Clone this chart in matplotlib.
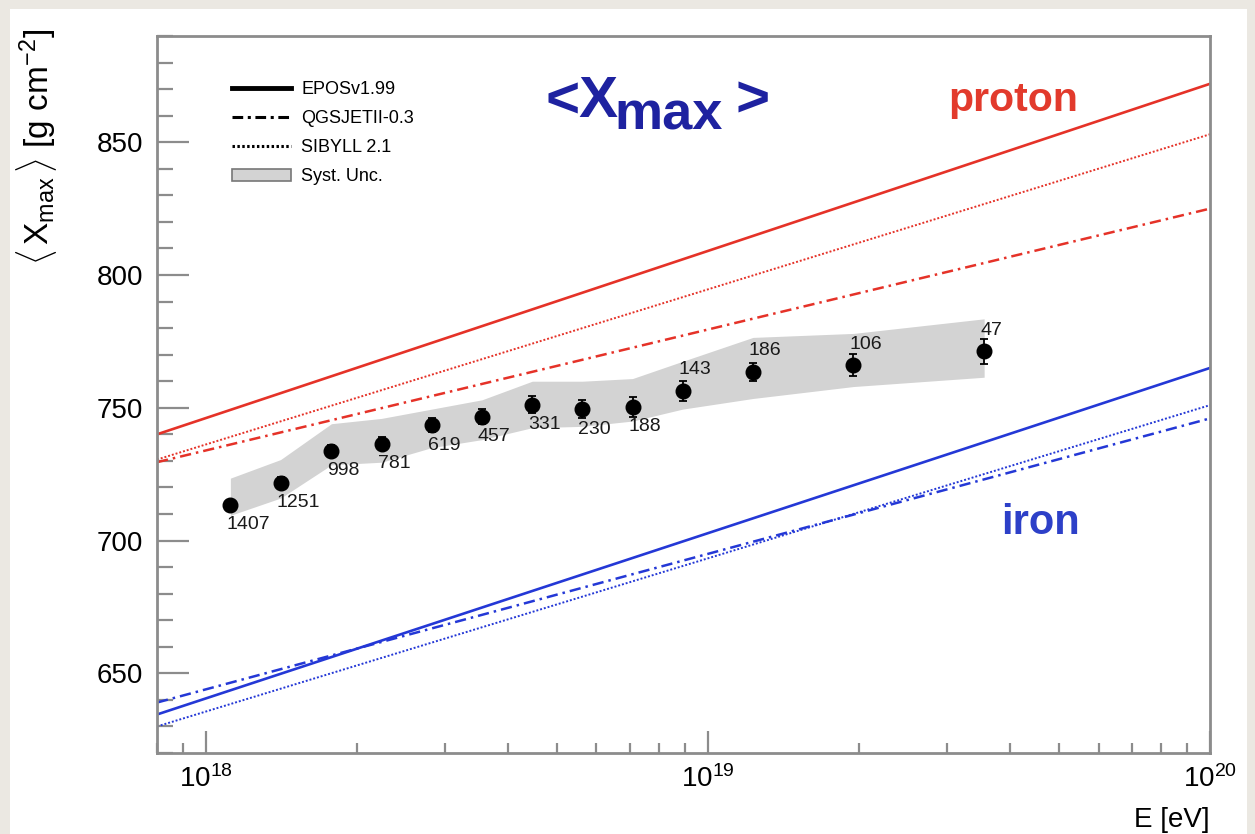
import matplotlib
matplotlib.use("Agg")
import matplotlib.pyplot as plt
import matplotlib.patches as mpatches
from matplotlib.lines import Line2D
from matplotlib.ticker import MultipleLocator, LogLocator, NullFormatter

plt.rcParams['font.family'] = ['Liberation Sans', 'DejaVu Sans']
plt.rcParams['mathtext.fontset'] = 'custom'
plt.rcParams['mathtext.rm'] = 'Liberation Sans'
plt.rcParams['mathtext.it'] = 'Liberation Sans:italic'
plt.rcParams['mathtext.bf'] = 'Liberation Sans:bold'

# measured <Xmax> per energy bin
energy = [1.12e18, 1.41e18, 1.78e18, 2.24e18, 2.82e18, 3.55e18, 4.47e18,
          5.62e18, 7.08e18, 8.91e18, 1.23e19, 1.95e19, 3.55e19]
xmax = [713.4, 721.8, 733.8, 736.5, 743.5, 746.7, 751.1,
        749.5, 750.4, 756.4, 763.6, 766.1, 771.2]
xmax_err = [1.8, 2.0, 2.2, 2.4, 2.6, 2.9, 3.2, 3.5, 3.7, 3.8, 3.4, 4.3, 4.7]
n_events = [1407, 1251, 998, 781, 619, 457, 331, 230, 188, 143, 186, 106, 47]
sys_hi = [723.5, 730.5, 744.0, 746.0, 749.5, 753.0, 760.0,
          760.0, 761.0, 767.5, 776.5, 778.0, 783.5]
sys_lo = [709.5, 716.0, 728.5, 729.5, 735.0, 738.0, 742.5,
          743.0, 745.0, 749.5, 753.5, 758.0, 761.5]

# model predictions (straight lines in log E)
model_energy = [8e17, 1e20]
proton_epos = [740.0, 872.0]
proton_qgsjet = [729.5, 825.0]
proton_sibyll = [730.5, 853.0]
iron_epos = [634.5, 765.0]
iron_qgsjet = [639.0, 746.0]
iron_sibyll = [630.0, 751.0]

red = '#e53228'
blue = '#2438d6'
dashdot = (0, (4.5, 2.0, 1.0, 2.0))
dotted = (0, (1.0, 1.0))

W, H = 1255, 834
fig = plt.figure(figsize=(W / 100, H / 100), dpi=100, facecolor='#ebe8e2')
bg = fig.add_axes([10 / W, 0, (1247 - 10) / W, 1 - 9 / H], zorder=-5)
bg.axis('off')
bg.add_patch(mpatches.Rectangle((0, 0), 1, 1, transform=bg.transAxes,
                                facecolor='white', edgecolor='none'))

ax = fig.add_axes([157 / W, 1 - 753 / H, (1210 - 157) / W, (753 - 36) / H])
ax.set_facecolor('white')

ax.fill_between(energy, sys_lo, sys_hi, color='#d3d3d3', linewidth=0, zorder=1)

ax.plot(model_energy, proton_epos, color=red, lw=1.9, zorder=2)
ax.plot(model_energy, proton_qgsjet, color=red, lw=1.8, ls=dashdot, zorder=2)
ax.plot(model_energy, proton_sibyll, color=red, lw=1.4, ls=dotted, zorder=2)
ax.plot(model_energy, iron_epos, color=blue, lw=1.9, zorder=2)
ax.plot(model_energy, iron_qgsjet, color=blue, lw=1.8, ls=dashdot, zorder=2)
ax.plot(model_energy, iron_sibyll, color=blue, lw=1.4, ls=dotted, zorder=2)

ax.errorbar(energy, xmax, yerr=xmax_err, fmt='o', color='black', ms=10.5,
            elinewidth=1.3, capsize=3, capthick=1.3, zorder=4)

for i, (e, v, n) in enumerate(zip(energy, xmax, n_events)):
    dy = -20 if i < 9 else 21
    ax.annotate(str(n), (e, v), xytext=(-4, dy), textcoords='offset pixels',
                ha='left', va='center', fontsize=14, color='#1a1a1a', zorder=5)

ax.set_xscale('log')
ax.set_xlim(8e17, 1e20)
ax.set_ylim(620, 890)
ax.yaxis.set_major_locator(MultipleLocator(50))
ax.yaxis.set_minor_locator(MultipleLocator(10))
ax.xaxis.set_major_locator(LogLocator(base=10, numticks=10))
ax.xaxis.set_minor_locator(LogLocator(base=10, subs=range(2, 10), numticks=30))
ax.xaxis.set_minor_formatter(NullFormatter())

frame_col = '#8c8c8c'
for s in ax.spines.values():
    s.set_color(frame_col)
    s.set_linewidth(2)
ax.tick_params(axis='both', which='both', direction='in', color=frame_col,
               width=1.6, top=False, right=False, labelsize=20)
ax.tick_params(axis='y', which='major', length=23, pad=10)
ax.tick_params(axis='y', which='minor', length=11.5)
ax.tick_params(axis='x', which='major', length=16, pad=9)
ax.tick_params(axis='x', which='minor', length=7.5)

ax.set_ylabel(r'$\langle\,\mathrm{X}_{\mathrm{max}}\,\rangle$ [g cm$^{-2}$]',
              fontsize=24, loc='top')
ax.yaxis.set_label_coords(-0.093, 1.01)
ax.set_xlabel('E [eV]', fontsize=20, loc='right')
ax.xaxis.set_label_coords(1.0, -0.075)

# legend
handles = [
    Line2D([], [], color='black', lw=3.5),
    Line2D([], [], color='black', lw=2.2, ls=(0, (3.5, 1.5, 1.0, 1.5))),
    Line2D([], [], color='black', lw=2.2, ls=(0, (0.8, 0.8))),
    mpatches.Patch(facecolor='#d3d3d3', edgecolor='#777777', lw=1.2),
]
labels = ['EPOSv1.99', 'QGSJETII-0.3', 'SIBYLL 2.1', 'Syst. Unc.']
ax.legend(handles, labels, loc='upper left', bbox_to_anchor=(0.071, 0.937),
          frameon=False, fontsize=13, handlelength=3.3, handletextpad=0.55,
          labelspacing=0.67, borderpad=0, borderaxespad=0)

# title and annotations
title_col = '#1e22a0'
fig.text(545 / W, 1 - 117 / H, '<X', fontsize=42, color=title_col,
         fontweight='bold', ha='left', va='baseline')
fig.text(614 / W, 1 - 130 / H, 'max', fontsize=39, color=title_col,
         fontweight='bold', ha='left', va='baseline')
fig.text(735 / W, 1 - 117 / H, '>', fontsize=42, color=title_col,
         fontweight='bold', ha='left', va='baseline')
fig.text(1013 / W, 1 - 100 / H, 'proton', fontsize=29.5, color='#e23a2c',
         fontweight='bold', ha='center', va='center')
fig.text(1040 / W, 1 - 523 / H, 'iron', fontsize=30, color='#2d40c8',
         fontweight='bold', ha='center', va='center')

fig.savefig('out.png', dpi=100, facecolor=fig.get_facecolor())
